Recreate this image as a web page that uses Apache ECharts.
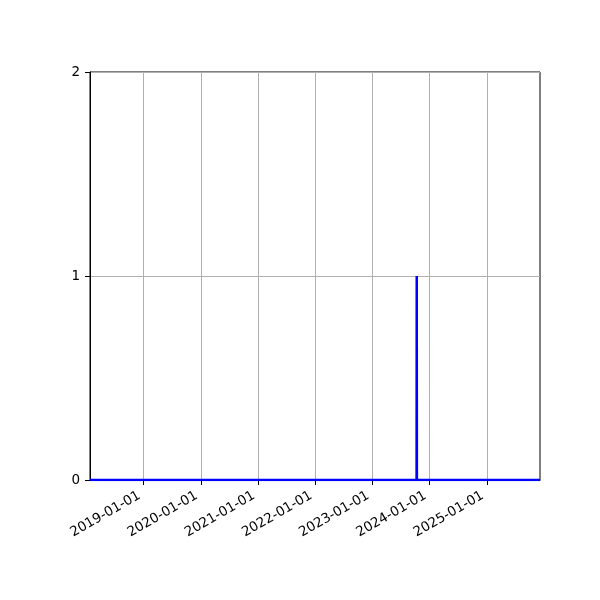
<!DOCTYPE html>
<html>
<head>
<meta charset="utf-8">
<script src="https://cdn.jsdelivr.net/npm/echarts@6/dist/echarts.min.js"></script>
<style>html,body{margin:0;padding:0;background:#fff}#c{width:600px;height:600px}</style>
</head>
<body>
<div id="c"></div>
<script>
const dates = ['2018-01-23', '2023-10-09', '2023-10-10', '2023-10-11', '2025-12-05'];
const values = [0, 0, 1, 0, 0];
const xTicks = ['2019-01-01', '2020-01-01', '2021-01-01', '2022-01-01', '2023-01-01', '2024-01-01', '2025-01-01'];
const xMin = '2018-01-23';
const xMax = '2025-12-05';
const yTicks = [0, 1, 2];

const ts = d => new Date(d + 'T00:00:00Z').getTime();
const tickTs = xTicks.map(ts);
const chart = echarts.init(document.getElementById('c'), null, {renderer: 'canvas'});
chart.setOption({
  backgroundColor: '#fff',
  animation: false,
  grid: {left: 90, right: 60, top: 72, bottom: 120, show: true, borderColor: '#000', borderWidth: 1, backgroundColor: 'transparent'},
  xAxis: {
    type: 'value',
    min: ts(xMin),
    max: ts(xMax),
    axisLine: {show: true, onZero: false, lineStyle: {color: '#000', width: 1}},
    axisTick: {show: true, length: 5, lineStyle: {color: '#000'}, customValues: tickTs},
    axisLabel: {
      customValues: tickTs,
      rotate: 30, color: '#000', fontSize: 13.5, fontFamily: 'DejaVu Sans', margin: 4,
      align: 'right', verticalAlign: 'top', padding: [0, 9, 0, 0],
      formatter: function (v) {
        const d = new Date(v);
        const p = n => String(n).padStart(2, '0');
        return d.getUTCFullYear() + '-' + p(d.getUTCMonth() + 1) + '-' + p(d.getUTCDate());
      }
    },
    splitLine: {show: true, lineStyle: {color: '#b0b0b0', width: 1}}
  },
  yAxis: {
    type: 'value', min: yTicks[0], max: yTicks[yTicks.length - 1], interval: 1,
    axisLine: {show: true, lineStyle: {color: '#000'}},
    axisTick: {show: true, length: 5, lineStyle: {color: '#000'}},
    axisLabel: {color: '#000', fontSize: 13.5, fontFamily: 'DejaVu Sans', margin: 10},
    splitLine: {show: true, lineStyle: {color: '#b0b0b0', width: 1}}
  },
  series: [{
    type: 'line',
    data: dates.map((d, i) => [ts(d), values[i]]),
    showSymbol: false, symbol: 'none',
    lineStyle: {color: '#0000ff', width: 2.5},
    clip: true
  }]
});
</script>
</body>
</html>
